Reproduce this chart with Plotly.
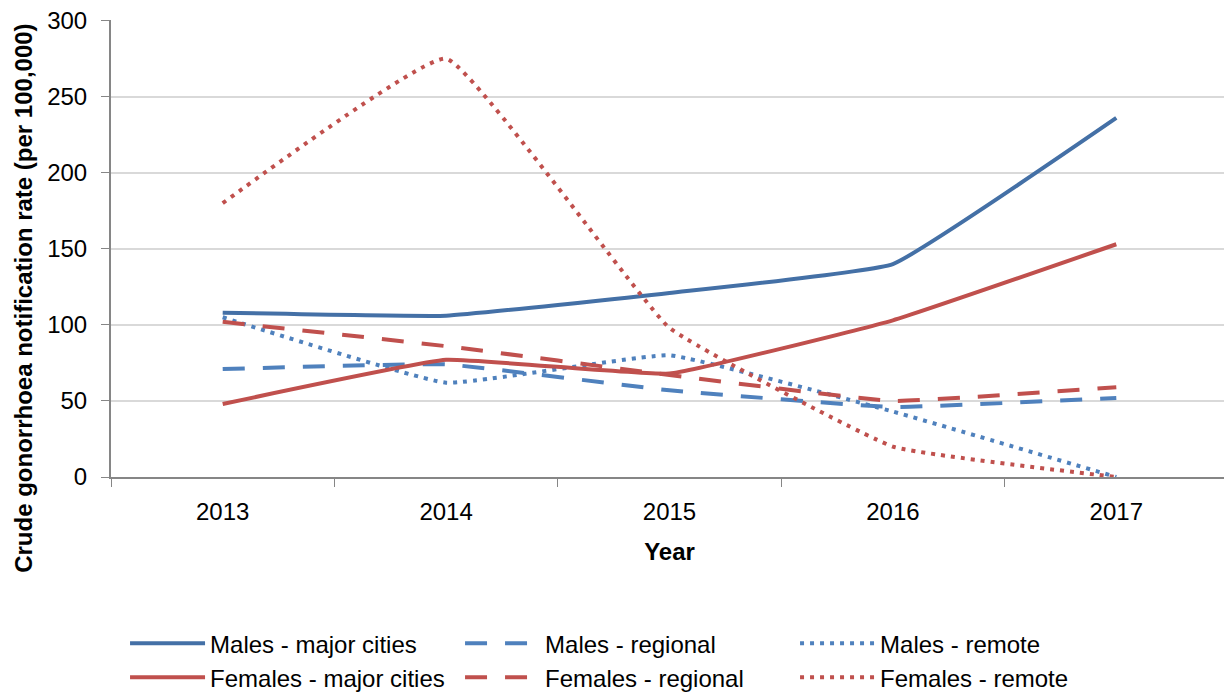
import plotly.graph_objects as go

years = ["2013", "2014", "2015", "2016", "2017"]
males_major = [108, 106, 121, 140, 236]
males_regional = [71, 74, 57, 46, 52]
males_remote = [105, 62, 80, 43, 0]
females_major = [48, 77, 68, 103, 153]
females_regional = [102, 86, 67, 50, 59]
females_remote = [180, 275, 98, 20, 0]

series = [
    ("Males - major cities", males_major, "#4470a6", "solid"),
    ("Males - regional", males_regional, "#4f81bd", "22px,18px"),
    ("Males - remote", males_remote, "#4f81bd", "4px,6px"),
    ("Females - major cities", females_major, "#c0504d", "solid"),
    ("Females - regional", females_regional, "#c0504d", "22px,18px"),
    ("Females - remote", females_remote, "#c0504d", "4px,6px"),
]

fig = go.Figure()
for name, vals, color, dash in series:
    fig.add_trace(go.Scatter(
        x=years, y=vals, name=name, mode="lines",
        line=dict(color=color, width=4, dash=dash, shape="spline", smoothing=0.3),
    ))

font = "Liberation Sans"
fig.update_layout(
    width=1232, height=693,
    margin=dict(l=103, r=12, t=12, b=224, autoexpand=False),
    paper_bgcolor="white", plot_bgcolor="white",
    font=dict(family=font, size=24, color="black"),
    showlegend=True,
    legend=dict(
        orientation="h", xref="container", yref="container",
        x=0.095, y=0.0584, xanchor="left", yanchor="middle",
        entrywidth=245, entrywidthmode="pixels",
        itemwidth=75,
        font=dict(family=font, size=24, color="black"),
        tracegroupgap=0,
    ),
    xaxis=dict(
        type="category", range=[-0.5, 4.5], automargin=False,
        tickson="boundaries", ticks="outside", ticklen=8, tickcolor="#868686",
        showline=True, linecolor="#868686", linewidth=2,
        showgrid=False, ticklabelstandoff=12, ticklabeloverflow="allow",
        title=dict(text="<b>Year</b>", font=dict(size=24), standoff=19),
        tickfont=dict(size=24),
    ),
    yaxis=dict(
        range=[0, 300.4], tickvals=[0, 50, 100, 150, 200, 250, 300], automargin=False,
        ticks="outside", ticklen=8, tickcolor="#868686",
        showline=True, linecolor="#868686", linewidth=2,
        showgrid=True, gridcolor="#d9d9d9", gridwidth=2,
        zeroline=False, ticklabelstandoff=9, ticklabeloverflow="allow",
        tickfont=dict(size=24),
    ),
    annotations=[dict(
        text="<b>Crude gonorrhoea notification rate (per 100,000)</b>",
        xref="paper", yref="paper", x=-0.0779, y=0.392,
        xanchor="center", yanchor="middle", textangle=-90,
        showarrow=False, font=dict(family=font, size=24, color="black"),
    )],
)

fig.write_html("out.html")
